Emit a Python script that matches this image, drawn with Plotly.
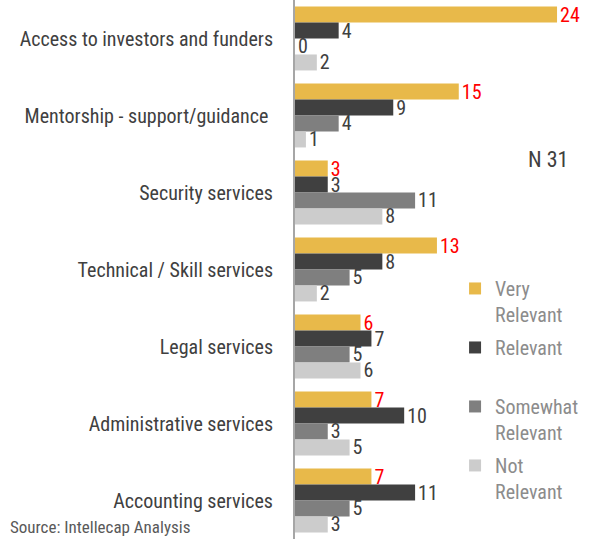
import plotly.graph_objects as go

categories = [
    "Access to investors and funders",
    "Mentorship - support/guidance ",
    "Security services",
    "Technical / Skill services",
    "Legal services",
    "Administrative services",
    "Accounting services",
]
series_names = ["Very<br>Relevant", "Relevant<br>\u00a0", "Somewhat<br>Relevant", "Not<br>Relevant"]
very_relevant = [24, 15, 3, 13, 6, 7, 7]
relevant = [4, 9, 3, 8, 7, 10, 11]
somewhat_relevant = [0, 4, 11, 5, 5, 3, 5]
not_relevant = [2, 1, 8, 2, 6, 5, 3]

colours = ["#E8B94A", "#404040", "#7F7F7F", "#CCCCCC"]
label_colours = ["#FF0000", "#404040", "#404040", "#404040"]
FONT = "Liberation Sans Narrow, Arial Narrow, Roboto Condensed, Roboto, sans-serif"

fig = go.Figure()
for i, (name, vals) in enumerate(
    zip(series_names, [very_relevant, relevant, somewhat_relevant, not_relevant])
):
    fig.add_trace(
        go.Bar(
            y=categories,
            x=vals,
            name=name,
            orientation="h",
            marker=dict(color=colours[i], line=dict(width=0)),
            text=vals,
            textposition="outside",
            constraintext="none",
            cliponaxis=False,
            textfont=dict(color=label_colours[i], size=20, family=FONT),
            legendgroup=str(i),
        )
    )

fig.update_layout(
    width=597,
    height=539,
    margin=dict(l=295, r=0, t=0, b=0),
    barmode="group",
    bargap=0.17,
    bargroupgap=0,
    plot_bgcolor="white",
    paper_bgcolor="white",
    font=dict(family=FONT, size=20, color="#404040"),
    showlegend=True,
    legend=dict(
        x=0.53,
        y=0.501,
        xanchor="left",
        yanchor="top",
        font=dict(size=20, color="#8C8C8C", family=FONT),
        valign="top",
        tracegroupgap=4,
        bgcolor="rgba(0,0,0,0)",
    ),
    xaxis=dict(range=[0, 27.66], visible=False),
    yaxis=dict(
        autorange="reversed",
        showline=True,
        linecolor="#A6A6A6",
        linewidth=2,
        ticks="",
        ticklabelstandoff=16,
        tickfont=dict(size=20, color="#404040", family=FONT),
        showgrid=False,
    ),
)

fig.add_annotation(
    text="N 31", x=(548 - 295) / 10.92, y=(539 - 159) / 539, xref="x", yref="paper",
    xanchor="center", yanchor="middle",
    showarrow=False, font=dict(size=22, color="#404040", family=FONT),
)
fig.add_annotation(
    text="Source: Intellecap Analysis", x=-(295 - 8) / 302, y=(539 - 527) / 539,
    xref="paper", yref="paper", showarrow=False, xanchor="left", yanchor="middle",
    font=dict(size=17, color="#595959", family=FONT),
)

fig.write_html(
    "out.html",
    config={"displayModeBar": False},
    post_script="document.body.style.margin='0';",
)
